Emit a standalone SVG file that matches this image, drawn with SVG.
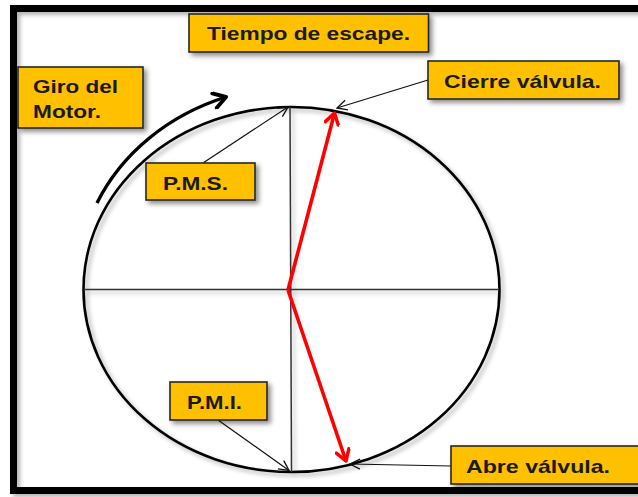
<svg xmlns="http://www.w3.org/2000/svg" width="638" height="497" viewBox="0 0 638 497">
<defs>
<filter id="sh" x="-20%" y="-20%" width="150%" height="160%">
<feDropShadow dx="3" dy="3" stdDeviation="2.5" flood-color="#000" flood-opacity="0.45"/>
</filter>
<filter id="shl" x="-10%" y="-10%" width="130%" height="130%">
<feDropShadow dx="3" dy="3" stdDeviation="2" flood-color="#000" flood-opacity="0.3"/>
</filter>
<marker id="thin" viewBox="0 0 12 12" refX="11" refY="6" markerWidth="12" markerHeight="12" markerUnits="userSpaceOnUse" orient="auto">
<path d="M1 1 L11 6 L1 11" fill="none" stroke="#111" stroke-width="1.3"/>
</marker>
<marker id="red" viewBox="0 0 12 12" refX="10" refY="6" markerWidth="16" markerHeight="16" markerUnits="userSpaceOnUse" orient="auto">
<path d="M2 1 L10 6 L2 11" fill="none" stroke="#ff0000" stroke-width="2.6" stroke-linecap="round" stroke-linejoin="round"/>
</marker>
<marker id="blk" viewBox="0 0 12 12" refX="10" refY="6" markerWidth="18" markerHeight="18" markerUnits="userSpaceOnUse" orient="auto">
<path d="M2 1 L10 6 L2 11" fill="none" stroke="#000" stroke-width="2.6" stroke-linecap="round" stroke-linejoin="round"/>
</marker>
</defs>
<style>
.box{fill:#ffc000;stroke:#262626;stroke-width:1.6;filter:url(#sh)}
.t{font-family:"Liberation Sans",Arial,sans-serif;font-weight:bold;font-size:19px;fill:#1a1a1a}
.thin{stroke:#111;stroke-width:1.2;fill:none}
</style>
<rect x="0" y="0" width="638" height="497" fill="#fff"/>
<rect x="13.5" y="8.5" width="640" height="482" fill="none" stroke="#000" stroke-width="7" filter="url(#shl)"/>

<g id="circle" filter="url(#shl)">
<ellipse cx="291.5" cy="289.5" rx="208" ry="182.5" fill="none" stroke="#000" stroke-width="2.6"/>
<line x1="84" y1="289.5" x2="499" y2="289.5" stroke="#333" stroke-width="1.5"/>
<line x1="290" y1="107" x2="291.5" y2="472" stroke="#333" stroke-width="1.5"/>
</g>

<g id="connectors">
<path d="M97 203 A 222 196 0 0 1 226 97" fill="none" stroke="#000" stroke-width="3.4" marker-end="url(#blk)"/>
<line x1="288" y1="290" x2="334.5" y2="113" stroke="#ff0000" stroke-width="3.6" marker-end="url(#red)"/>
<line x1="288" y1="290" x2="346" y2="461" stroke="#ff0000" stroke-width="3.6" marker-end="url(#red)"/>
<line x1="428" y1="80" x2="337" y2="108" class="thin" marker-end="url(#thin)"/>
<line x1="451" y1="466" x2="350" y2="464" class="thin" marker-end="url(#thin)"/>
<line x1="203" y1="163" x2="288" y2="107" class="thin" marker-end="url(#thin)"/>
<line x1="218" y1="420" x2="289" y2="470.5" class="thin" marker-end="url(#thin)"/>
</g>

<g id="tiempo">
<rect class="box" x="189" y="14" width="239.5" height="38"/>
<text class="t" x="207" y="40" textLength="203" lengthAdjust="spacingAndGlyphs">Tiempo de escape.</text>
</g>
<g id="giro">
<rect class="box" x="18" y="67" width="125" height="61"/>
<text class="t" x="33" y="93" textLength="85" lengthAdjust="spacingAndGlyphs">Giro del</text>
<text class="t" x="33" y="118" textLength="68" lengthAdjust="spacingAndGlyphs">Motor.</text>
</g>
<g id="cierre">
<rect class="box" x="428" y="61" width="191" height="38"/>
<text class="t" x="444" y="87.5" textLength="157" lengthAdjust="spacingAndGlyphs">Cierre válvula.</text>
</g>
<g id="pms">
<rect class="box" x="146" y="163" width="109" height="37"/>
<text class="t" x="163" y="190" textLength="65" lengthAdjust="spacingAndGlyphs">P.M.S.</text>
</g>
<g id="pmi">
<rect class="box" x="170" y="382" width="97" height="38"/>
<text class="t" x="187" y="408.5" textLength="55" lengthAdjust="spacingAndGlyphs">P.M.I.</text>
</g>
<g id="abre">
<rect class="box" x="451" y="446" width="195" height="38"/>
<text class="t" x="466" y="472.5" textLength="144" lengthAdjust="spacingAndGlyphs">Abre válvula.</text>
</g>
</svg>
